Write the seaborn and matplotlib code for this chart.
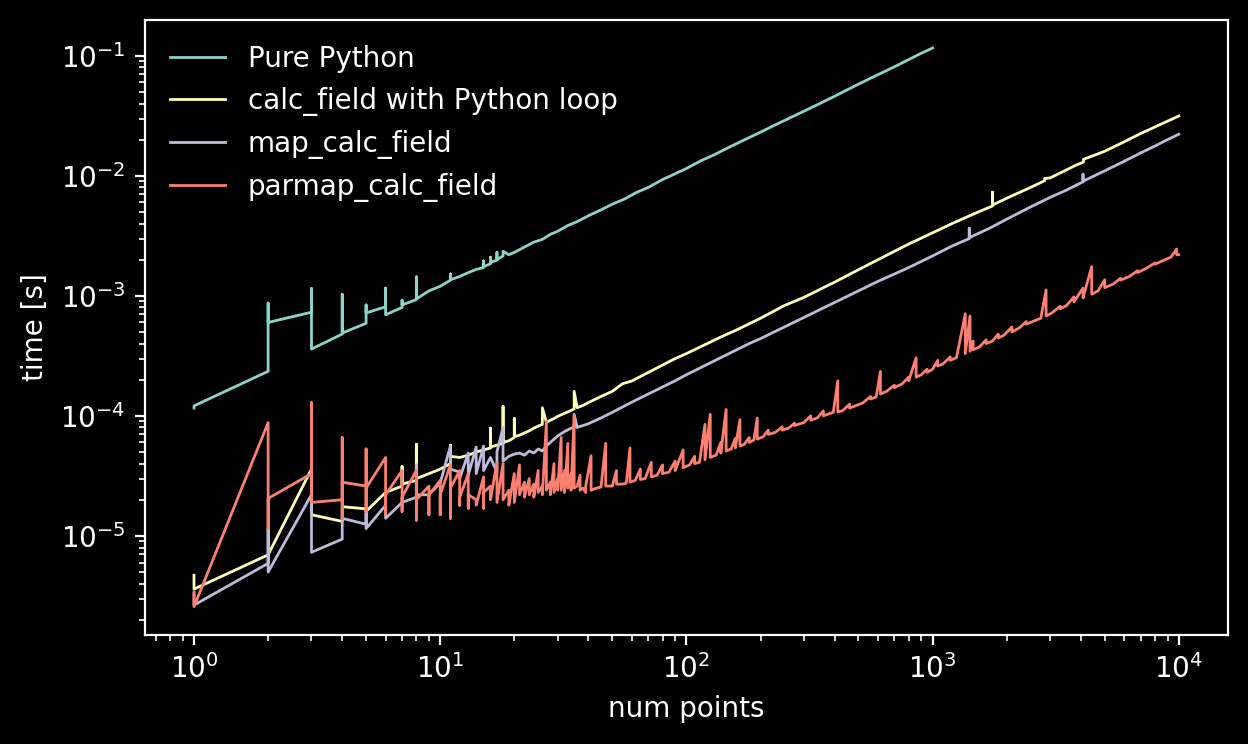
import pandas as pd
import matplotlib
matplotlib.use("Agg")
import matplotlib.pyplot as plt
import seaborn as sns

### Data (num points, time in seconds)
labels = ["Pure Python", "calc_field with Python loop", "map_calc_field", "parmap_calc_field"]
colors = ["#8dd3c7", "#ffffb3", "#bebada", "#fb8072"]

pure_n = [1, 1, 2, 2, 2, 3, 3, 3, 4, 4, 4, 5, 5, 5, 6, 6, 6, 7, 7, 7, 8, 8, 8, 9, 10,
          11, 11, 11, 12, 13, 14, 15, 15, 15, 16, 16, 16, 17, 17, 17, 18, 18, 19, 20,
          22, 24, 26, 28, 30, 33, 36, 40, 45, 50, 56, 63, 70, 80, 90, 100,
          115, 130, 150, 170, 200, 230, 260, 300, 350, 400, 450, 500,
          560, 630, 700, 800, 900, 1000]
pure_t = [1.16e-4, 1.21e-4, 2.35e-4, 8.7e-4, 6.0e-4, 7.3e-4, 1.15e-3, 3.6e-4, 4.8e-4, 1.03e-3,
          4.9e-4, 5.9e-4, 8.4e-4, 7.2e-4, 8.1e-4, 1.16e-3, 6.95e-4, 8.0e-4, 9.2e-4, 8.4e-4,
          9.3e-4, 1.44e-3, 9.4e-4, 1.1e-3, 1.2e-3,
          1.35e-3, 1.52e-3, 1.36e-3, 1.45e-3, 1.56e-3, 1.66e-3, 1.72e-3, 1.95e-3, 1.75e-3, 1.85e-3,
          2.1e-3, 1.9e-3, 1.98e-3, 2.3e-3, 2.0e-3, 2.15e-3, 2.35e-3, 2.2e-3, 2.3e-3,
          2.55e-3, 2.8e-3, 2.95e-3, 3.25e-3, 3.45e-3, 3.85e-3, 4.15e-3, 4.65e-3, 5.2e-3, 5.8e-3,
          6.4e-3, 7.3e-3, 8.0e-3, 9.3e-3, 1.04e-2, 1.15e-2,
          1.34e-2, 1.5e-2, 1.74e-2, 1.97e-2, 2.31e-2, 2.66e-2, 3.0e-2, 3.45e-2, 4.02e-2, 4.6e-2,
          5.2e-2, 5.8e-2,
          6.5e-2, 7.3e-2, 8.1e-2, 9.3e-2, 1.05e-1, 1.16e-1]

loop_n = [1, 1, 2, 3, 3, 4, 4, 5, 5, 6, 7, 7, 7, 8, 8, 8, 9, 10, 11, 11, 11, 12, 13, 14, 15,
          16, 16, 16, 17, 18, 18, 18, 19, 20, 20, 20, 21, 22, 23, 24, 25, 26, 26, 27, 28, 29,
          30, 32, 34, 35, 35, 36, 38, 40,
          45, 50, 55, 60, 70, 80, 90, 100, 120, 140, 160, 180, 200, 250, 300, 400, 500, 600,
          700, 800, 1000,
          1200, 1500, 1750, 1750, 1750, 2000, 2500, 2850, 2850, 3000, 3500, 3800, 4100, 4100,
          5000, 6000, 7000, 8000, 9000, 10000]
loop_t = [4.7e-6, 3.6e-6, 6.95e-6, 3.6e-5, 1.5e-5, 1.32e-5, 1.75e-5, 1.68e-5, 1.6e-5, 2.3e-5,
          2.6e-5, 3.8e-5, 2.7e-5, 2.9e-5, 5.8e-5, 3.0e-5, 3.3e-5, 3.6e-5, 4.0e-5, 5.7e-5, 4.6e-5,
          4.5e-5, 4.7e-5, 5.0e-5, 5.2e-5,
          5.4e-5, 7.9e-5, 5.5e-5, 5.7e-5, 5.9e-5, 1.2e-4, 6.0e-5, 6.2e-5, 6.6e-5, 9.5e-5, 6.7e-5,
          6.9e-5, 7.2e-5, 7.5e-5, 7.9e-5, 8.2e-5, 8.5e-5, 1.17e-4, 8.8e-5, 9.2e-5, 9.5e-5,
          9.9e-5, 1.05e-4, 1.11e-4, 1.14e-4, 1.6e-4, 1.17e-4, 1.22e-4, 1.29e-4,
          1.45e-4, 1.6e-4, 1.85e-4, 1.95e-4, 2.3e-4, 2.65e-4, 3.0e-4, 3.3e-4, 3.95e-4, 4.6e-4,
          5.2e-4, 5.85e-4, 6.5e-4, 8.3e-4, 9.7e-4, 1.3e-3, 1.65e-3, 2.0e-3,
          2.35e-3, 2.7e-3, 3.35e-3,
          4.0e-3, 4.9e-3, 5.6e-3, 7.3e-3, 5.7e-3, 6.5e-3, 8.0e-3, 9.1e-3, 9.5e-3, 9.6e-3,
          1.12e-2, 1.22e-2, 1.3e-2, 1.37e-2,
          1.6e-2, 1.92e-2, 2.25e-2, 2.55e-2, 2.85e-2, 3.15e-2]

map_n = [1, 1, 2, 2, 2, 3, 3, 4, 4, 5, 5, 5, 6, 6, 7, 8, 8, 8, 9, 10, 11, 11, 12, 12, 13, 13,
         14, 14, 15, 15, 16, 17, 17, 18, 18, 19, 20, 21, 22, 23, 24, 25, 26, 27, 28, 30, 32,
         34, 35, 35, 36, 38, 40,
         45, 50, 60, 70, 80, 90, 100, 120, 140, 160, 180, 200, 250, 300, 400, 500, 600, 700,
         800, 1000, 1200, 1409, 1409, 1409,
         1700, 2000, 2500, 3000, 3500, 4083, 4083, 4083, 5000, 6000, 7000, 8000, 9000, 10000]
map_t = [3.3e-6, 2.65e-6, 5.9e-6, 1.15e-5, 5.0e-6, 2.2e-5, 7.3e-6, 9.4e-6, 1.4e-5, 1.25e-5,
         1.6e-5, 1.15e-5, 1.8e-5, 1.4e-5, 1.9e-5, 2.1e-5, 3.9e-5, 2.2e-5, 2.2e-5, 2.75e-5,
         5.6e-5, 3.6e-5, 3.4e-5, 3.0e-5, 4.9e-5, 3.2e-5,
         5.5e-5, 3.3e-5, 5.6e-5, 3.5e-5, 4.5e-5, 3.4e-5, 5.0e-5, 8.0e-5, 4.2e-5, 4.6e-5,
         4.8e-5, 4.9e-5, 4.7e-5, 5.1e-5, 4.9e-5, 5.3e-5, 5.1e-5, 5.6e-5, 6.0e-5, 6.8e-5,
         7.4e-5, 7.9e-5, 8.0e-5, 1.03e-4, 8.0e-5, 8.3e-5, 8.6e-5,
         9.6e-5, 1.07e-4, 1.3e-4, 1.52e-4, 1.74e-4, 1.96e-4, 2.2e-4, 2.65e-4, 3.1e-4, 3.55e-4,
         4.0e-4, 4.4e-4, 5.5e-4, 6.6e-4, 8.8e-4, 1.1e-3, 1.32e-3, 1.52e-3,
         1.72e-3, 2.15e-3, 2.6e-3, 3.0e-3, 3.65e-3, 3.05e-3,
         3.65e-3, 4.35e-3, 5.5e-3, 6.6e-3, 7.6e-3, 8.9e-3, 1.03e-2, 9.0e-3, 1.1e-2, 1.32e-2,
         1.55e-2, 1.77e-2, 2.0e-2, 2.22e-2]

par_n = [1, 1, 2, 2, 2, 3, 3, 3, 4, 4, 4, 4, 5, 5, 5, 5,
         6, 6, 6, 7, 7, 7, 8, 8, 8, 9, 9, 9, 10, 10, 10, 11, 11, 11, 12, 12, 12, 13, 13, 13,
         14, 14, 15, 15, 15, 16, 16, 17, 17, 18, 18, 19, 19, 20, 20,
         21, 21, 22, 22, 23, 23, 24, 24, 25, 25, 26, 26, 27, 27, 28, 28, 29, 29, 30, 30,
         31, 31, 32, 32, 33, 33, 34, 34, 35, 35, 36, 37, 37, 38, 39, 39,
         41, 41, 43, 45, 47, 47, 50, 52, 52, 55, 57, 59, 59, 62, 65, 65, 68, 72, 72, 76,
         80, 80, 85, 90, 90, 97, 97, 103, 108, 108, 113, 119, 119, 125, 125, 132, 138, 138,
         145, 145, 152, 158, 158, 165, 165, 172, 180, 180, 188, 194, 194,
         205, 215, 215, 230, 245, 245, 260, 275, 275, 290, 300, 320, 320, 340, 360, 360, 380,
         395, 412, 412, 430, 460, 460, 490, 520, 560, 560, 590, 614, 614, 650, 700, 700, 750,
         800, 800, 857, 857, 900, 950, 950, 1000,
         1050, 1050, 1100, 1180, 1180, 1250, 1358, 1358, 1419, 1419, 1460, 1460, 1550, 1650,
         1650, 1750, 1850, 1850, 1950, 2100, 2100, 2250, 2400, 2400, 2600, 2750, 2891, 2891,
         3050, 3300, 3300, 3500, 3750, 3750, 4083, 4083, 4428, 4428, 4700, 5000, 5000, 5400,
         5800, 5800, 6300, 6800, 6800, 7400, 8000, 8000, 8700, 9300, 9800, 9800, 10000]
par_t = [3.4e-6, 2.57e-6, 8.77e-5, 1.15e-5, 2.05e-5, 3.3e-5, 1.29e-4, 1.9e-5, 2.0e-5, 6.6e-5,
         1.4e-5, 2.8e-5, 2.6e-5, 5.3e-5, 1.6e-5, 2.5e-5,
         4.5e-5, 1.5e-5, 2.2e-5, 3.5e-5, 1.6e-5, 2.1e-5, 3.5e-5, 1.35e-5, 2.0e-5, 2.6e-5,
         1.5e-5, 2.2e-5, 2.9e-5, 1.5e-5, 2.2e-5, 3.9e-5, 1.4e-5, 2.5e-5, 3.5e-5, 1.8e-5,
         2.1e-5, 3.3e-5, 1.7e-5, 2.2e-5,
         2.0e-5, 1.8e-5, 3.1e-5, 1.7e-5, 2.3e-5, 2.6e-5, 2.0e-5, 4.1e-5, 1.9e-5, 4.0e-5,
         2.0e-5, 2.4e-5, 1.8e-5, 3.3e-5, 1.9e-5,
         3.9e-5, 2.2e-5, 2.8e-5, 2.1e-5, 3.0e-5, 2.2e-5, 2.7e-5, 2.1e-5, 3.5e-5, 2.3e-5,
         2.6e-5, 2.2e-5, 9.0e-5, 2.4e-5, 2.8e-5, 2.2e-5, 4.0e-5, 2.3e-5, 3.0e-5, 2.4e-5,
         6.6e-5, 2.4e-5, 3.5e-5, 2.3e-5, 5.9e-5, 2.5e-5, 3.3e-5, 2.4e-5, 1.0e-4, 2.5e-5,
         2.6e-5, 3.2e-5, 2.4e-5, 2.5e-5, 2.3e-5, 2.6e-5,
         4.65e-5, 2.4e-5, 2.5e-5, 2.55e-5, 5.9e-5, 2.6e-5, 2.6e-5, 3.5e-5, 2.7e-5, 2.7e-5,
         2.75e-5, 5.4e-5, 2.8e-5, 2.9e-5, 3.6e-5, 2.95e-5, 3.0e-5, 4.1e-5, 3.1e-5, 3.2e-5,
         3.9e-5, 3.3e-5, 3.4e-5, 4.2e-5, 3.5e-5, 5.2e-5, 3.7e-5, 3.9e-5, 4.6e-5, 4.0e-5,
         4.1e-5, 8.5e-5, 4.3e-5, 1.03e-4, 4.5e-5, 4.7e-5, 6.0e-5, 4.9e-5,
         1.13e-4, 5.1e-5, 5.3e-5, 6.5e-5, 5.4e-5, 9.3e-5, 5.6e-5, 5.8e-5, 6.6e-5, 6.0e-5,
         6.3e-5, 9.6e-5, 6.4e-5,
         6.7e-5, 7.6e-5, 7.0e-5, 7.3e-5, 8.1e-5, 7.6e-5, 7.9e-5, 8.7e-5, 8.3e-5, 8.6e-5,
         8.8e-5, 1.0e-4, 9.2e-5, 9.6e-5, 1.1e-4, 1.0e-4, 1.04e-4,
         1.07e-4, 1.96e-4, 1.08e-4, 1.1e-4, 1.25e-4, 1.16e-4, 1.22e-4, 1.28e-4, 1.45e-4,
         1.38e-4, 1.44e-4, 2.35e-4, 1.52e-4, 1.6e-4, 1.8e-4, 1.72e-4, 1.84e-4,
         2.1e-4, 1.96e-4, 3.04e-4, 2.1e-4, 2.2e-4, 2.45e-4, 2.3e-4, 2.45e-4,
         2.9e-4, 2.6e-4, 2.7e-4, 3.1e-4, 2.9e-4, 3.05e-4, 7.1e-4, 3.3e-4, 6.8e-4, 3.45e-4,
         4.2e-4, 3.55e-4, 3.75e-4, 4.3e-4,
         4.0e-4, 4.2e-4, 4.8e-4, 4.45e-4, 4.7e-4, 5.5e-4, 5.0e-4, 5.4e-4, 6.1e-4, 5.8e-4,
         6.2e-4, 6.5e-4, 1.12e-3, 6.8e-4,
         7.2e-4, 8.2e-4, 7.8e-4, 8.3e-4, 9.8e-4, 8.9e-4, 1.16e-3, 9.6e-4, 1.75e-3, 1.03e-3,
         1.1e-3, 1.36e-3, 1.17e-3, 1.25e-3,
         1.4e-3, 1.35e-3, 1.45e-3, 1.62e-3, 1.56e-3, 1.7e-3, 1.88e-3, 1.83e-3, 1.98e-3,
         2.1e-3, 2.45e-3, 2.2e-3, 2.2e-3]

### Build long table
frames = []
for lab, n, t in zip(labels, [pure_n, loop_n, map_n, par_n], [pure_t, loop_t, map_t, par_t]):
    assert len(n) == len(t), lab
    frames.append(pd.DataFrame({"num points": n, "time [s]": t, "method": lab}))
df = pd.concat(frames, ignore_index=True)

### Plot
plt.style.use("dark_background")
fig, ax = plt.subplots(figsize=(6.24, 3.72), dpi=200)
fig.subplots_adjust(left=0.116, right=0.984, bottom=0.147, top=0.973)

sns.lineplot(data=df, x="num points", y="time [s]", hue="method", hue_order=labels,
             palette=colors, sort=False, estimator=None, linewidth=1.0, ax=ax)
ax.set_xscale("log")
ax.set_yscale("log")
ax.set_xlabel("num points")
ax.set_ylabel("time [s]")
sns.move_legend(ax, "upper left", title=None, frameon=False)

fig.savefig("out.png", dpi=200)
